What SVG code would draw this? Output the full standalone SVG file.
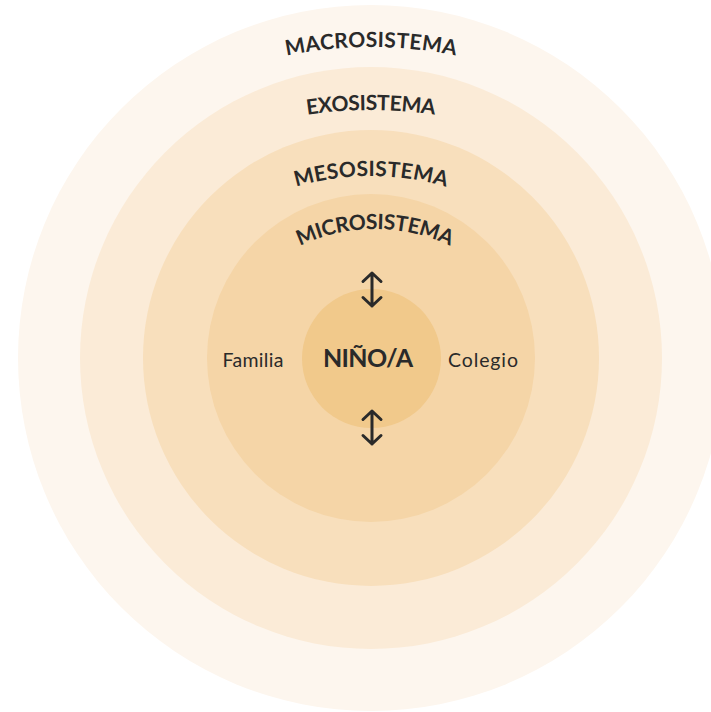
<svg xmlns="http://www.w3.org/2000/svg" width="711" height="712" viewBox="0 0 711 712">
<style>
.lbl{font-family:Lato,"Noto Sans","Liberation Sans",sans-serif;font-weight:700;fill:#2a2a2a;font-size:21px}
.side{font-family:Lato,"Noto Sans","Liberation Sans",sans-serif;font-weight:400;fill:#2a2a2a;font-size:19.5px}
.arr{stroke:#2a2a2a;stroke-width:3;fill:none;stroke-linecap:round;stroke-linejoin:round}
</style>
<defs>
<path id="pMacro" d="M241,67.6 A420,420 0 0 1 501,67.6"/>
<path id="pExo" d="M241,129.7 A440,440 0 0 1 501,129.7"/>
<path id="pMeso" d="M251,204.6 A266,266 0 0 1 491,204.6"/>
<path id="pMicro" d="M265,267.9 A175,175 0 0 1 485,267.9"/>
</defs>
<rect width="711" height="712" fill="#ffffff"/>
<g id="macrosistema">
<circle cx="371" cy="358" r="353" fill="#FDF6EE"/>
<text class="lbl"><textPath href="#pMacro" startOffset="50%" text-anchor="middle" textLength="170" lengthAdjust="spacing">MACROSISTEMA</textPath></text>
</g>
<g id="exosistema">
<circle cx="371" cy="358" r="291" fill="#FBEBD7"/>
<text class="lbl"><textPath href="#pExo" startOffset="50%" text-anchor="middle" textLength="128" lengthAdjust="spacing">EXOSISTEMA</textPath></text>
</g>
<g id="mesosistema">
<circle cx="371" cy="358" r="228" fill="#F8DFBC"/>
<text class="lbl"><textPath href="#pMeso" startOffset="50%" text-anchor="middle" textLength="152" lengthAdjust="spacing">MESOSISTEMA</textPath></text>
</g>
<g id="microsistema">
<circle cx="371" cy="358" r="164" fill="#F5D5A7"/>
<text class="lbl"><textPath href="#pMicro" startOffset="50%" text-anchor="middle" textLength="155" lengthAdjust="spacing">MICROSISTEMA</textPath></text>
</g>
<g id="familia">
<text class="side" x="253" y="367" text-anchor="middle" textLength="61" lengthAdjust="spacing">Familia</text>
</g>
<g id="colegio">
<text class="side" x="483" y="367" text-anchor="middle" textLength="70" lengthAdjust="spacing">Colegio</text>
</g>
<g id="nino">
<circle cx="371.5" cy="358.5" r="69.5" fill="#F1C98B"/>
<text class="lbl" x="368" y="367" text-anchor="middle" style="font-size:25px" textLength="90" lengthAdjust="spacing">NIÑO/A</text>
</g>
<g id="connectors">
<path class="arr" d="M372,273 V306 M363,281.5 L372,273 L381,281.5 M363,297.5 L372,306 L381,297.5"/>
<path class="arr" d="M372,411 V444 M363,419.5 L372,411 L381,419.5 M363,435.5 L372,444 L381,435.5"/>
</g>
</svg>
